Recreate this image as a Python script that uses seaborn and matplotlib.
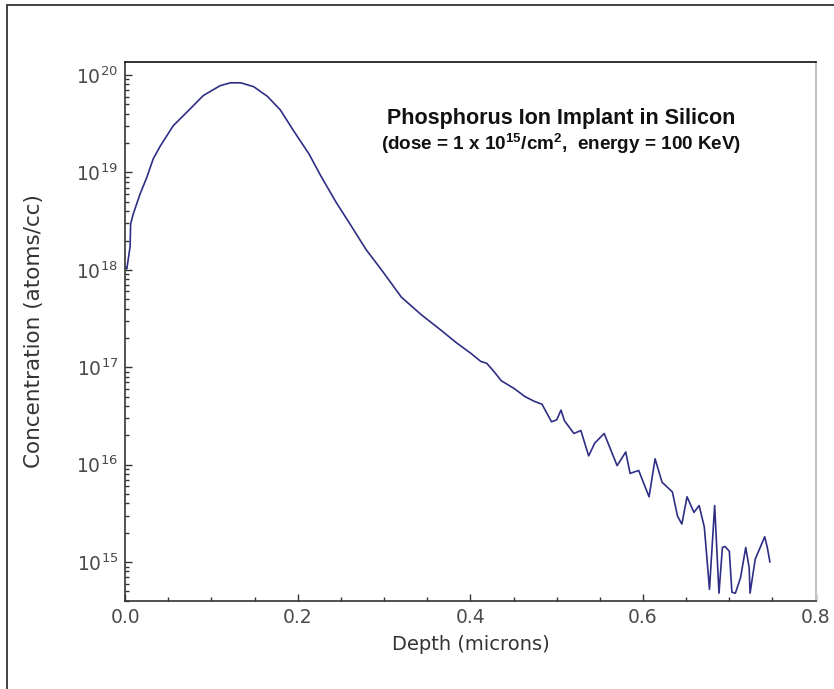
import numpy as np
import pandas as pd
import seaborn as sns
import matplotlib.pyplot as plt
from matplotlib.lines import Line2D
from matplotlib.ticker import LogLocator, MultipleLocator, NullFormatter

# depth (microns) and log10 concentration (atoms/cc)
depth = [0.000, 0.002, 0.0058, 0.0064, 0.0093, 0.0174, 0.0252, 0.0326, 0.0407,
         0.0558, 0.0717, 0.0907, 0.110, 0.122, 0.134, 0.149, 0.165, 0.180,
         0.195, 0.213, 0.227, 0.244, 0.262, 0.279, 0.297, 0.320, 0.343,
         0.366, 0.384, 0.401, 0.412, 0.419, 0.426, 0.436, 0.451, 0.463,
         0.474, 0.483, 0.494, 0.500, 0.505, 0.509, 0.520, 0.528, 0.537,
         0.544, 0.555, 0.570, 0.580, 0.585, 0.595, 0.607, 0.614, 0.622,
         0.634, 0.640, 0.645, 0.651, 0.659, 0.665, 0.671, 0.673, 0.677,
         0.680, 0.683, 0.688, 0.692, 0.695, 0.700, 0.703, 0.707, 0.713,
         0.719, 0.723, 0.724, 0.730, 0.741, 0.744, 0.747]
log_conc = [18.03, 18.01, 18.24, 18.47, 18.57, 18.78, 18.95, 19.14, 19.27,
            19.48, 19.62, 19.79, 19.89, 19.92, 19.92, 19.88, 19.78, 19.64,
            19.43, 19.19, 18.96, 18.70, 18.45, 18.21, 18.00, 17.72, 17.54,
            17.38, 17.25, 17.14, 17.06, 17.04, 16.97, 16.86, 16.78, 16.70,
            16.65, 16.62, 16.44, 16.46, 16.56, 16.45, 16.32, 16.35, 16.09,
            16.22, 16.32, 15.99, 16.13, 15.91, 15.94, 15.67, 16.06, 15.82,
            15.72, 15.47, 15.39, 15.67, 15.51, 15.58, 15.36, 15.15, 14.72,
            15.15, 15.58, 14.68, 15.15, 15.16, 15.11, 14.69, 14.68, 14.84,
            15.15, 14.94, 14.68, 15.03, 15.26, 15.15, 15.00]

df = pd.DataFrame({'depth': depth, 'conc': np.power(10.0, log_conc)})

sns.set_style('ticks')
plt.rcParams['font.family'] = ['DejaVu Sans']
plt.rcParams['mathtext.fontset'] = 'custom'
plt.rcParams['mathtext.rm'] = 'DejaVu Sans'
plt.rcParams['mathtext.bf'] = 'Liberation Sans:bold'

fig = plt.figure(figsize=(8.34, 6.89), dpi=100)
ax = fig.add_axes([0.150, 0.128, 0.828, 0.782])

sns.lineplot(data=df, x='depth', y='conc', ax=ax, color='#2e2e85',
             linewidth=1.2, estimator=None, sort=False)

ax.set_yscale('log')
ax.set_xlim(0, 0.8)
ax.set_ylim(4e14, 1.36e20)
ax.xaxis.set_minor_locator(MultipleLocator(0.05))
ax.yaxis.set_major_locator(LogLocator(base=10, numticks=20))
ax.yaxis.set_minor_locator(LogLocator(base=10, subs=np.arange(2, 10), numticks=20))
ax.yaxis.set_minor_formatter(NullFormatter())
ax.set_xticks([0.0, 0.2, 0.4, 0.6, 0.8])
ax.set_xticklabels(['0.0', '0.2', '0.4', '0.6', '0.8'])

ax.tick_params(which='both', direction='in', colors='#333333', labelcolor='#4a4a4a')
ax.tick_params(which='major', length=5, width=1, labelsize=13.5, pad=5)
ax.tick_params(which='minor', length=3, width=1)

for side in ['left', 'bottom']:
    ax.spines[side].set_color('#333333')
    ax.spines[side].set_linewidth(1.2)
ax.spines['top'].set_color('#111111')
ax.spines['top'].set_linewidth(1.2)
ax.spines['right'].set_color('#c4c4c4')
ax.spines['right'].set_linewidth(1.5)

ax.set_xlabel('Depth (microns)', fontsize=14, color='#333333', labelpad=6)
ax.set_ylabel('Concentration (atoms/cc)', fontsize=15.5, color='#333333', labelpad=23)

ax.text(0.632, 0.896, 'Phosphorus Ion Implant in Silicon',
        transform=ax.transAxes, ha='center', va='center', fontsize=15.5,
        fontweight='bold', family=['Liberation Sans'], color='#111111')
ax.text(0.632, 0.849,
        r'(dose = 1 x 10$^{\mathbf{15}}$/cm$^{\mathbf{2}}$,  energy = 100 KeV)',
        transform=ax.transAxes, ha='center', va='center', fontsize=13.6,
        fontweight='bold', family=['Liberation Sans'], color='#111111')

# outer frame (top and left edges visible)
fig.add_artist(Line2D([7 / 834, 7 / 834], [0, 1 - 4.5 / 689], color='#333333', lw=1.3))
fig.add_artist(Line2D([7 / 834, 1], [1 - 4.5 / 689, 1 - 4.5 / 689], color='#333333', lw=1.3))

fig.savefig('out.png', dpi=100)
